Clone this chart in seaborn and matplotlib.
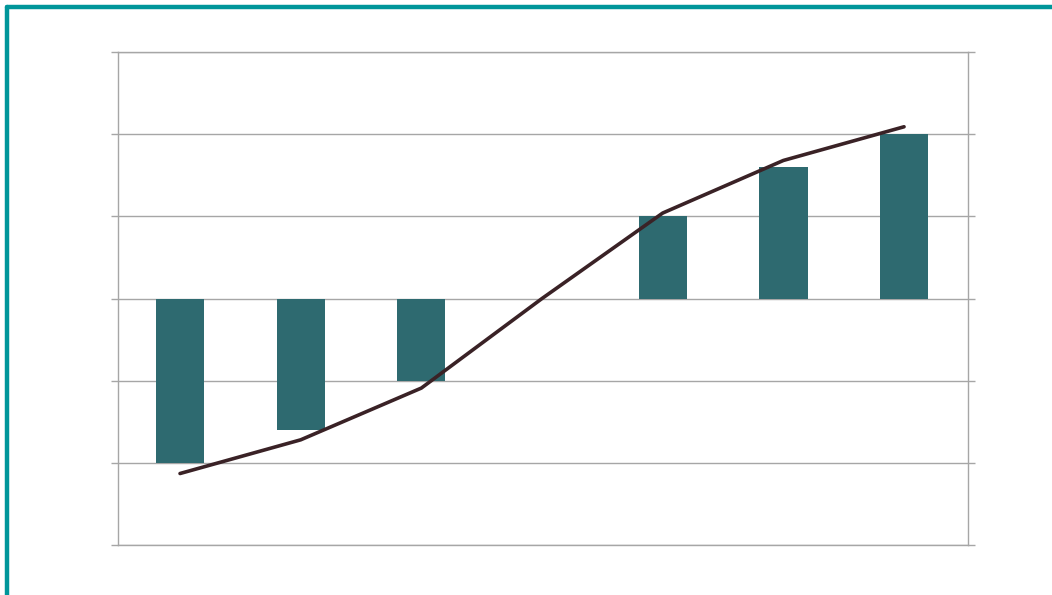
import numpy as np
import pandas as pd
import seaborn as sns
import matplotlib.pyplot as plt
from matplotlib.lines import Line2D

# data
categories = ['c1', 'c2', 'c3', 'c4', 'c5', 'c6', 'c7']
bar_values = [-2.0, -1.6, -1.0, 0.0, 1.0, 1.6, 2.0]
line_values = [-2.13, -1.72, -1.09, 0.0, 1.04, 1.68, 2.09]
y_ticks = [-3, -2, -1, 0, 1, 2, 3]

sns.set_theme(style='white')

df = pd.DataFrame({'cat': categories, 'bar': bar_values, 'line': line_values})

fig = plt.figure(figsize=(10.52, 5.95), dpi=100)
ax = fig.add_axes([118 / 1052, 1 - 545 / 595, 850 / 1052, 493 / 595])

sns.barplot(data=df, x='cat', y='bar', color='#2E6A70', saturation=1,
            width=0.4, linewidth=0, edgecolor='none', ax=ax, zorder=3)
sns.lineplot(x=np.arange(len(categories)), y=df['line'], color='#3A2226',
             linewidth=2.6, ax=ax, zorder=4)

ax.set_xlim(-0.514, 6.53)
ax.set_ylim(y_ticks[0], y_ticks[-1])
ax.set_yticks(y_ticks)
ax.set_xticks([])
ax.set_xlabel('')
ax.set_ylabel('')
ax.yaxis.grid(True, color='#A6A6A6', linewidth=1.0, zorder=0)
ax.set_axisbelow(True)
ax.tick_params(axis='y', left=True, right=True, length=5, width=1.0,
               color='#A6A6A6', labelleft=False, labelright=False)
for s in ['top', 'bottom', 'left', 'right']:
    ax.spines[s].set_color('#A6A6A6')
    ax.spines[s].set_linewidth(1.0)

# teal frame on top and left
teal = '#00969A'
fig.add_artist(Line2D([7 / 1052, 1.0], [1 - 7 / 595, 1 - 7 / 595],
                      color=teal, linewidth=3.2, transform=fig.transFigure))
fig.add_artist(Line2D([7 / 1052, 7 / 1052], [0.0, 1 - 7 / 595],
                      color=teal, linewidth=3.2, transform=fig.transFigure))

fig.savefig('out.png', dpi=100)
